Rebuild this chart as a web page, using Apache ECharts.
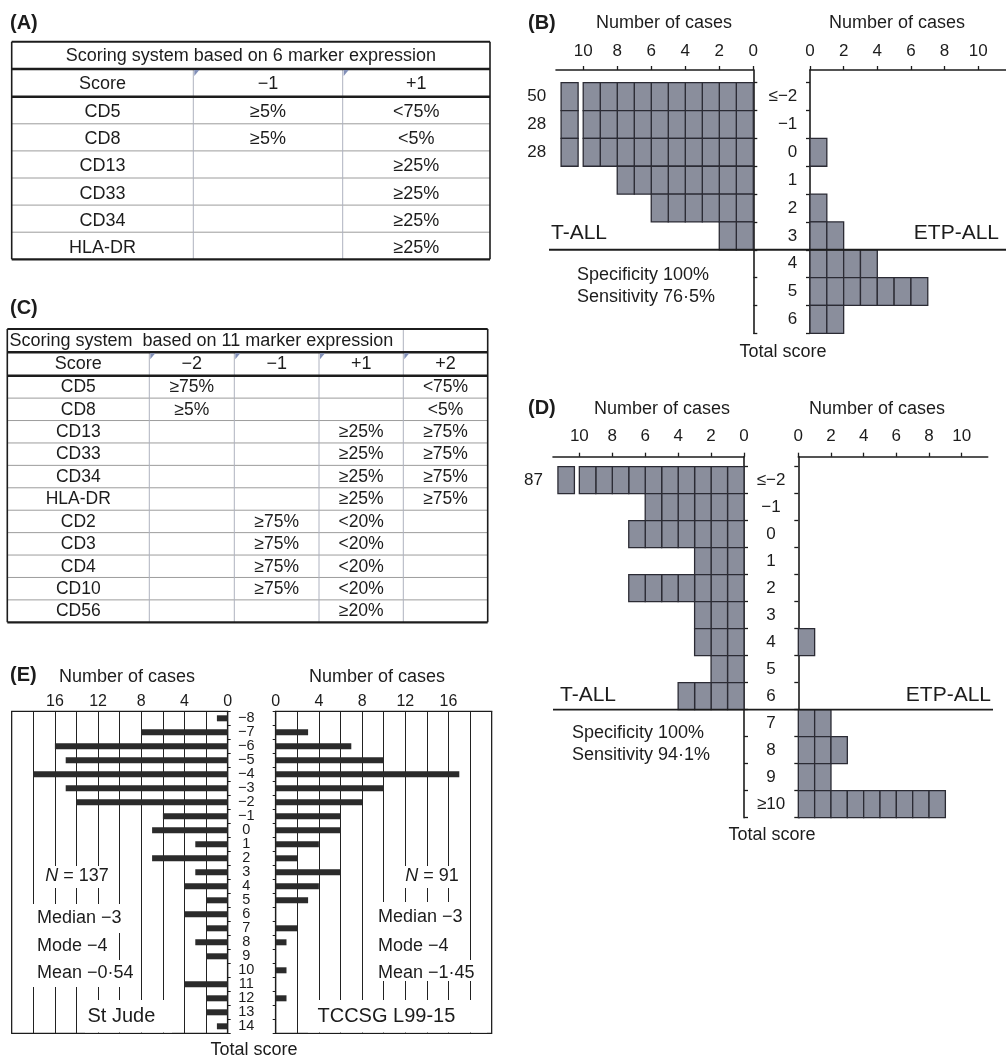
<!DOCTYPE html>
<html>
<head>
<meta charset="utf-8">
<script src="https://cdn.jsdelivr.net/npm/echarts@6/dist/echarts.min.js"></script>
<style>
html,body{margin:0;padding:0;background:#fff;}
#c{width:1006px;height:1058px;}
</style>
</head>
<body>
<div id="c"></div>
<script>
// ---------------- DATA ----------------
const catsB = ['≤−2','−1','0','1','2','3','4','5','6'];
const tallB = [50,28,28,8,6,2,0,0,0];
const etpB  = [0,0,1,0,1,2,4,7,2];
const cutB = 5.5;   // row boundary between score 3 (index 5) and 4 (index 6)

const catsD = ['≤−2','−1','0','1','2','3','4','5','6','7','8','9','≥10'];
const tallD = [87,6,7,3,7,3,3,2,4,0,0,0,0];
const etpD  = [0,0,0,0,0,0,1,0,0,2,3,2,9];
const cutD = 8.5;   // row boundary between score 6 (index 8) and 7 (index 9)

const catsE = ['−8','−7','−6','−5','−4','−3','−2','−1','0','1','2','3','4','5','6','7','8','9','10','11','12','13','14'];
const stJude = [1,8,16,15,18,15,14,6,7,3,7,3,4,2,4,2,3,2,0,4,2,2,1];
const tccsg  = [0,3,7,10,17,10,8,6,6,4,2,6,4,3,0,2,1,0,1,0,1,0,0];

const cellTicks = [0,2,4,6,8,10];
const eTicks = [0,4,8,12,16];

const tableATitle = 'Scoring system based on 6 marker expression';
const tableAHead = ['Score','−1','+1'];
const tableARows = [['CD5','≥5%','<75%'],['CD8','≥5%','<5%'],['CD13','','≥25%'],['CD33','','≥25%'],['CD34','','≥25%'],['HLA-DR','','≥25%']];

const tableCTitle = 'Scoring system  based on 11 marker expression';
const tableCHead = ['Score','−2','−1','+1','+2'];
const tableCRows = [['CD5','≥75%','','','<75%'],['CD8','≥5%','','','<5%'],['CD13','','','≥25%','≥75%'],['CD33','','','≥25%','≥75%'],['CD34','','','≥25%','≥75%'],['HLA-DR','','','≥25%','≥75%'],['CD2','','≥75%','<20%',''],['CD3','','≥75%','<20%',''],['CD4','','≥75%','<20%',''],['CD10','','≥75%','<20%',''],['CD56','','','≥20%','']];

// ---------------- STYLE ----------------
const FONT = "'Liberation Sans', Arial, Helvetica, sans-serif";
const INK = '#1c1c1c';
const CELL_FILL = '#8a8e9c';
const CELL_STROKE = '#2b2b34';
const CAP = 10;

const chart = echarts.init(document.getElementById('c'), null, {renderer:'canvas'});

function cellRect(api, a, b, r){
  const p1 = api.coord([a, r-0.5]);
  const p2 = api.coord([b, r+0.5]);
  return {type:'rect', shape:{x:Math.min(p1[0],p2[0]), y:Math.min(p1[1],p2[1]), width:Math.abs(p2[0]-p1[0]), height:Math.abs(p2[1]-p1[1])},
    style:{fill:CELL_FILL, stroke:CELL_STROKE, lineWidth:1.3}};
}
function renderCells(params, api){
  const c = api.value(0), r = api.value(1);
  const children = [];
  const n = Math.min(c, CAP);
  for(let k=0;k<n;k++) children.push(cellRect(api,k,k+1,r));
  if(c > CAP){
    children.push(cellRect(api, CAP+0.3, CAP+1.3, r));
    const p = api.coord([CAP+1.3, r]);
    children.push({type:'text', x:p[0]-15, y:p[1], style:{text:String(c), fill:INK, fontSize:17, fontFamily:FONT, textAlign:'right', textVerticalAlign:'middle'}});
  }
  return {type:'group', children};
}
function sepRenderer(x1, x2){
  return function(params, api){
    const y = api.coord([0, api.value(1)])[1];
    return {type:'line', shape:{x1, y1:y, x2, y2:y}, style:{stroke:INK, lineWidth:1.8}};
  };
}

function cellX(gi, inverse, max, margin){
  return {type:'value', gridIndex:gi, position:'top', inverse, min:0, max,
    axisLine:{show:true, onZero:false, lineStyle:{color:INK, width:1.6}},
    axisTick:{show:true, customValues:cellTicks, length:4, lineStyle:{color:INK, width:1.3}},
    axisLabel:{show:true, customValues:cellTicks, margin, fontSize:17, color:INK, fontFamily:FONT},
    splitLine:{show:false}};
}
function cellY(gi, cats, min, pos, showLabel, align, margin){
  const bounds = []; for(let i=0;i<=cats.length;i++) bounds.push(i-0.5);
  const idx = cats.map((_,i)=>i);
  return {type:'value', gridIndex:gi, inverse:true, min, max:cats.length-0.5, position:pos,
    axisLine:{show:true, onZero:false, lineStyle:{color:INK, width:1.6}},
    axisTick:{show:true, customValues:bounds, length:4, lineStyle:{color:INK, width:1.3}},
    axisLabel:{show:showLabel, customValues:idx, formatter:(v)=>cats[Math.round(v)], align, margin, fontSize:17, color:INK, fontFamily:FONT},
    splitLine:{show:false}};
}
function eX(gi, inverse){
  return {type:'value', gridIndex:gi, position:'top', inverse, min:0, max:20, interval:2,
    axisLine:{show:true, onZero:false, lineStyle:{color:INK, width:1.2}},
    axisTick:{show:false},
    axisLabel:{show:true, customValues:eTicks, margin:2, fontSize:16, color:INK, fontFamily:FONT},
    splitLine:{show:true, lineStyle:{color:'#222', width:1}}};
}
function eY(gi, pos, showLabel){
  return {type:'category', gridIndex:gi, data:catsE, inverse:true, position:pos,
    axisLine:{show:true, onZero:false, lineStyle:{color:INK, width:1.2}},
    axisTick:{show:true, length:3, inside:false, lineStyle:{color:INK}},
    axisLabel:{show:showLabel, interval:0, align:'center', margin:18.5, fontSize:14.5, lineHeight:14, color:INK, fontFamily:FONT},
    splitLine:{show:false}};
}

const yMinB = -0.5 - 12.7/((333.3-82.7)/9);
const yMinD = -0.5 - 10/27;

// ---------------- GRAPHIC (texts, tables) ----------------
const G = [];
function T(x, y, text, o){
  o = o || {};
  G.push({type:'text', x, y, z:60, silent:true, style:Object.assign({text, fill:INK, fontSize:o.size||18, fontFamily:FONT,
    fontWeight:o.weight||'normal', textAlign:o.align||'center', textVerticalAlign:'middle'}, o.rich?{rich:o.rich}:{})});
}
function Ln(x1,y1,x2,y2,color,w,z){
  G.push({type:'line', z:z||55, silent:true, shape:{x1,y1,x2,y2}, style:{stroke:color, lineWidth:w}});
}
function Box(x,y,w,h){
  G.push({type:'rect', z:58, silent:true, shape:{x,y,width:w,height:h}, style:{fill:'#ffffff'}});
}
function Tri(x,y){
  G.push({type:'polygon', z:56, silent:true, shape:{points:[[x+1,y+1],[x+6,y+1],[x+1,y+7]]}, style:{fill:'#8290b8'}});
}

// Panel labels
T(10,23,'(A)',{align:'left',weight:'bold',size:20});
T(528,23,'(B)',{align:'left',weight:'bold',size:20});
T(10,308,'(C)',{align:'left',weight:'bold',size:20});
T(528,408,'(D)',{align:'left',weight:'bold',size:20});
T(10,675,'(E)',{align:'left',weight:'bold',size:20});

// Table A
(function(){
  const L=11.7,R=490,TT=41.7,H1=69,H2=96.7,B=259.3;
  const cols=[L,193.3,342.7,R];
  const rowH=(B-H2)/tableARows.length;
  for(let i=1;i<tableARows.length;i++) Ln(L,H2+rowH*i,R,H2+rowH*i,'#9c9c9c',1);
  for(let j=1;j<cols.length-1;j++){ Ln(cols[j],H1,cols[j],B,'#aeb2bf',1); Tri(cols[j],H1); }
  Ln(L,TT,R,TT,INK,2); Ln(L,H1,R,H1,INK,2.4); Ln(L,H2,R,H2,INK,2.4); Ln(L,B,R,B,INK,2.2);
  Ln(L,TT,L,B,INK,1.6); Ln(R,TT,R,B,INK,1.6);
  T((L+R)/2, 56, tableATitle, {size:18});
  tableAHead.forEach((h,j)=>T((cols[j]+cols[j+1])/2, 84.5, h, {size:18}));
  tableARows.forEach((row,i)=>row.forEach((v,j)=>{ if(v) T((cols[j]+cols[j+1])/2, H2+rowH*(i+0.5)+2, v, {size:18}); }));
})();

// Table C
(function(){
  const L=7.3,R=487.7,TT=329,H1=352.3,H2=375.7,B=622.3;
  const cols=[L,149.3,234.3,319,403.3,R];
  const rowH=(B-H2)/tableCRows.length;
  for(let i=1;i<tableCRows.length;i++) Ln(L,H2+rowH*i,R,H2+rowH*i,'#9c9c9c',1);
  for(let j=1;j<cols.length-1;j++){ Ln(cols[j],H1,cols[j],B,'#aeb2bf',1); Tri(cols[j],H1); }
  Ln(403.3,TT,403.3,H1,'#aeb2bf',1);
  Ln(L,TT,R,TT,INK,2); Ln(L,H1,R,H1,INK,2.4); Ln(L,H2,R,H2,INK,2.4); Ln(L,B,R,B,INK,2.2);
  Ln(L,TT,L,B,INK,1.6); Ln(R,TT,R,B,INK,1.6);
  T(9.5, 341.5, tableCTitle, {size:18, align:'left'});
  tableCHead.forEach((h,j)=>T((cols[j]+cols[j+1])/2, 364.5, h, {size:18}));
  tableCRows.forEach((row,i)=>row.forEach((v,j)=>{ if(v) T((cols[j]+cols[j+1])/2, H2+rowH*(i+0.5)+0.5, v, {size:17.5}); }));
})();

// Panel B texts
T(664,23,'Number of cases'); T(897,23,'Number of cases');
T(783,352,'Total score');
T(551,233,'T-ALL',{align:'left',size:21}); T(999,233,'ETP-ALL',{align:'right',size:21});
T(577,275,'Specificity 100%',{align:'left'}); T(577,297,'Sensitivity 76·5%',{align:'left'});

// Panel D texts
T(662,409,'Number of cases'); T(877,409,'Number of cases');
T(772,835,'Total score');
T(560,695,'T-ALL',{align:'left',size:21}); T(991,695,'ETP-ALL',{align:'right',size:21});
T(572,733,'Specificity 100%',{align:'left'}); T(572,755,'Sensitivity 94·1%',{align:'left'});

// Panel E texts with white backing boxes
T(127,677,'Number of cases'); T(377,677,'Number of cases');
T(254,1050,'Total score');
Box(38,866,76,22); T(77,876,'{i|N} = 137',{rich:{i:{fontStyle:'italic',fontSize:18,fontFamily:FONT,fill:INK}}});
Box(28,904,102,29); T(37,918,'Median −3',{align:'left'});
Box(28,933,86,27); T(37,946.5,'Mode −4',{align:'left'});
Box(28,960,110,27); T(37,973.5,'Mean −0·54',{align:'left'});
Box(85,1000,87,32.5); T(87.5,1016,'St Jude',{align:'left',size:20});
Box(395,866,68,22); T(432,876,'{i|N} = 91',{rich:{i:{fontStyle:'italic',fontSize:18,fontFamily:FONT,fill:INK}}});
Box(372,902,97,29); T(378,917,'Median −3',{align:'left'});
Box(372,931,85,29); T(378,946,'Mode −4',{align:'left'});
Box(372,960,114,21); T(378,973,'Mean −1·45',{align:'left'});
Box(308,1000,179,32.5); T(317.5,1016,'TCCSG L99-15',{align:'left',size:20});

chart.setOption({
  animation:false,
  backgroundColor:'#ffffff',
  textStyle:{fontFamily:FONT},
  grid:[
    {left:556, top:70, width:197.3, height:263.3},
    {left:810, top:70, width:196, height:263.3},
    {left:553, top:456.7, width:191, height:361},
    {left:798.3, top:456.7, width:189.4, height:361},
    {left:11.7, top:711.3, width:216, height:322, show:true, borderColor:INK, borderWidth:1.2},
    {left:275.7, top:711.3, width:216, height:322, show:true, borderColor:INK, borderWidth:1.2}
  ],
  xAxis:[
    cellX(0, true, 11.6, 10),
    cellX(1, false, 11.65, 10),
    cellX(2, true, 11.6, 11.5),
    cellX(3, false, 11.59, 11.5),
    eX(4, true),
    eX(5, false)
  ],
  yAxis:[
    cellY(0, catsB, yMinB, 'right', true, 'right', 44),
    cellY(1, catsB, yMinB, 'left', false, 'right', 8),
    cellY(2, catsD, yMinD, 'right', true, 'center', 27),
    cellY(3, catsD, yMinD, 'left', false, 'right', 8),
    eY(4, 'right', true),
    eY(5, 'left', false)
  ],
  graphic: G,
  series:[
    {type:'custom', xAxisIndex:0, yAxisIndex:0, renderItem:renderCells, data:tallB.map((v,i)=>[v,i]), silent:true, clip:false},
    {type:'custom', xAxisIndex:1, yAxisIndex:1, renderItem:renderCells, data:etpB.map((v,i)=>[v,i]), silent:true, clip:false},
    {type:'custom', xAxisIndex:2, yAxisIndex:2, renderItem:renderCells, data:tallD.map((v,i)=>[v,i]), silent:true, clip:false},
    {type:'custom', xAxisIndex:3, yAxisIndex:3, renderItem:renderCells, data:etpD.map((v,i)=>[v,i]), silent:true, clip:false},
    {type:'custom', xAxisIndex:0, yAxisIndex:0, renderItem:sepRenderer(549,1006), data:[[0,cutB]], silent:true, clip:false, z:5},
    {type:'custom', xAxisIndex:2, yAxisIndex:2, renderItem:sepRenderer(553,993), data:[[0,cutD]], silent:true, clip:false, z:5},
    {type:'bar', xAxisIndex:4, yAxisIndex:4, data:stJude, barWidth:6, itemStyle:{color:'#2b2b2b'}, silent:true},
    {type:'bar', xAxisIndex:5, yAxisIndex:5, data:tccsg, barWidth:6, itemStyle:{color:'#2b2b2b'}, silent:true}
  ]
});
</script>
</body>
</html>
